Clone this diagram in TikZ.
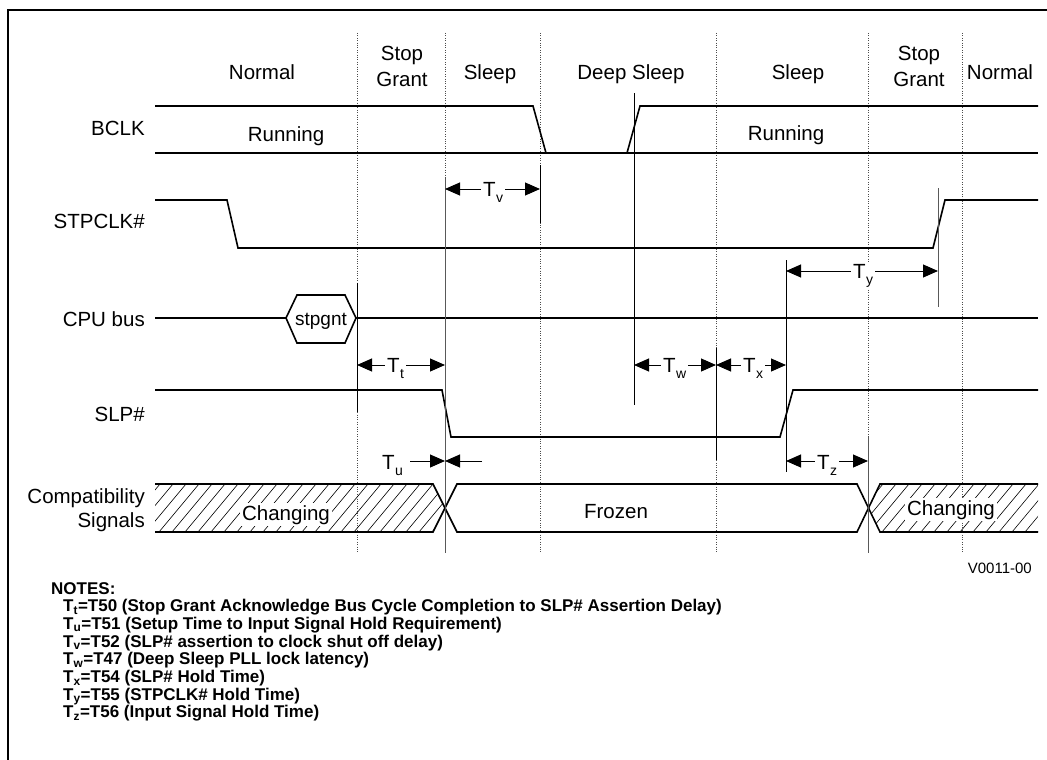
\documentclass[tikz,border=0pt]{standalone}
\usepackage{fontspec}
\setmainfont{Liberation Sans}
\usetikzlibrary{arrows.meta}
\newcommand\Tl[1]{T\kern0.3pt\raisebox{-6pt}{\fontsize{14}{14}\selectfont #1}}
\begin{document}
\begin{tikzpicture}[x=1pt,y=-1pt,
  sig/.style={line width=1.6pt, line join=miter},
  tick/.style={line width=1pt},
  gtick/.style={line width=1pt, black!65},
  dots/.style={black!70, line width=0.8pt, dash pattern=on 0.8pt off 1.6pt},
  dimarr/.style={line width=1pt, {Triangle[length=15pt,width=13pt]}-{Triangle[length=15pt,width=13pt]}},
  onearr/.style={line width=1pt, -{Triangle[length=15pt,width=13pt]}},
  hatch/.style={line width=0.6pt},
  lbl/.style={font=\fontsize{20.5}{24}\selectfont, inner sep=0pt},
  tlab/.style={font=\fontsize{20.5}{24}\selectfont, fill=white, inner xsep=2pt, inner ysep=1pt, anchor=base west},
  note/.style={font=\bfseries\fontsize{17}{18}\selectfont, inner sep=0pt, anchor=base west}]
\useasboundingbox (0,0) rectangle (1047,760);
% frame
\draw[line width=2pt] (8,760) -- (8,10) -- (1047,10);

% dotted phase boundaries
\foreach \x in {357,445,540,716,868,962}
  \draw[dots] (\x,33) -- (\x,553);

% phase labels
\node[lbl, anchor=base] (pn1) at (262,80) {Normal};
\node[lbl, anchor=base] (ps1) at (402,60) {Stop};
\node[lbl, anchor=base] (pg1) at (402,86) {Grant};
\node[lbl, anchor=base] (pl1) at (490,80) {Sleep};
\node[lbl, anchor=base] (pd) at (631,80) {Deep Sleep};
\node[lbl, anchor=base] (pl2) at (798,80) {Sleep};
\node[lbl, anchor=base] (ps2) at (919,60) {Stop};
\node[lbl, anchor=base] (pg2) at (919,86) {Grant};
\node[lbl, anchor=base] (pn2) at (1000,80) {Normal};

% signal names
\node[lbl, anchor=base east] (nb) at (145,135) {BCLK};
\node[lbl, anchor=base east] (ns) at (145,228) {STPCLK\#};
\node[lbl, anchor=base east] (nc) at (145,326) {CPU bus};
\node[lbl, anchor=base east] (np) at (145,421) {SLP\#};
\node[lbl, anchor=base east] (ncp) at (145,503) {Compatibility};
\node[lbl, anchor=base east] (nsg) at (145,527) {Signals};

% BCLK
\draw[sig] (155,106) -- (533,106) -- (546,153);
\draw[sig] (155,153) -- (1038,153);
\draw[sig] (627,153) -- (640,106) -- (1038,106);
\node[lbl, anchor=base] (r1) at (286,141) {Running};
\node[lbl, anchor=base] (r2) at (786,140) {Running};

% STPCLK#
\draw[sig] (155,200) -- (227,200) -- (238,248) -- (933,248) -- (945,200) -- (1038,200);

% CPU bus
\draw[sig] (155,318) -- (286,318);
\draw[sig] (286,318) -- (297,295) -- (345,295) -- (356,318) -- (345,343) -- (297,343) -- cycle;
\draw[sig] (356,318) -- (1038,318);
\node[lbl, font=\fontsize{19}{22}\selectfont, anchor=base] (sg) at (321,325) {stpgnt};

% SLP#
\draw[sig] (155,390) -- (442,390) -- (451,437) -- (780,437) -- (793,390) -- (1038,390);

% Compatibility signals: hatched areas
\begin{scope}
  \clip (155,484) -- (433,484) -- (445,508) -- (433,532) -- (155,532) -- cycle;
  \foreach \i in {120,133,...,460} \draw[hatch] (\i,532) -- ++(40,-48);
\end{scope}
\begin{scope}
  \clip (880,484) -- (1038,484) -- (1038,532) -- (880,532) -- (868,508) -- cycle;
  \foreach \i in {830,843,...,1040} \draw[hatch] (\i,532) -- ++(40,-48);
\end{scope}
\node[lbl, anchor=base, fill=white, inner xsep=2pt, inner ysep=2pt] (ch1) at (286,520) {Changing};
\node[lbl, anchor=base, fill=white, inner xsep=2pt, inner ysep=2pt] (ch2) at (951,515) {Changing};
\node[lbl, anchor=base] (fz) at (616,518) {Frozen};
\draw[sig] (155,484) -- (433,484) -- (457,532) -- (857,532) -- (880,484) -- (1038,484);
\draw[sig] (155,532) -- (433,532) -- (457,484) -- (857,484) -- (880,532) -- (1038,532);

% timing reference lines
\draw[tick] (634,93) -- (634,405);
\draw[tick] (357,283) -- (357,412);
\draw[tick] (540,165) -- (540,223);
\draw[gtick] (445,178) -- (445,553);
\draw[gtick] (938,188) -- (938,307);
\draw[tick] (786,260) -- (786,472);
\draw[tick] (716,348) -- (716,460);
\draw[gtick] (868,437) -- (868,553);

% named coordinates for dimension arrows
\coordinate (tv1) at (445,189); \coordinate (tv2) at (540,189);
\coordinate (ty1) at (786,271); \coordinate (ty2) at (938,271);
\coordinate (tt1) at (357,365); \coordinate (tt2) at (445,365);
\coordinate (tw1) at (634,365); \coordinate (tw2) at (716,365);
\coordinate (tx1) at (716,365); \coordinate (tx2) at (786,365);
\coordinate (tz1) at (786,461); \coordinate (tz2) at (868,461);
\coordinate (tua) at (410,461); \coordinate (tum) at (445,461); \coordinate (tub) at (482,461);

\draw[dimarr] (tv1) -- (tv2);
\draw[dimarr] (ty1) -- (ty2);
\draw[dimarr] (tt1) -- (tt2);
\draw[dimarr] (tw1) -- (tw2);
\draw[dimarr] (tx1) -- (tx2);
\draw[dimarr] (tz1) -- (tz2);
\draw[onearr] (tua) -- (tum);
\draw[onearr] (tub) -- (tum);

\node[tlab] (lv) at (481,196) {\Tl{v}};
\node[tlab] (ly) at (851,278) {\Tl{y}};
\node[tlab] (lt) at (385,372) {\Tl{t}};
\node[tlab] (lw) at (661,372) {\Tl{w}};
\node[tlab] (lx) at (741,372) {\Tl{x}};
\node[tlab] (lu) at (380,469) {\Tl{u}};
\node[tlab] (lz) at (815,469) {\Tl{z}};

\node[lbl, font=\fontsize{15}{18}\selectfont, anchor=base east] (vid) at (1032,573) {V0011-00};

% notes
\node[note] (nn) at (51,594) {NOTES:};
\node[note] (n1) at (63,611.7) {T\textsubscript{t}=T50 (Stop Grant Acknowledge Bus Cycle Completion to SLP\# Assertion Delay)};
\node[note] (n2) at (63,629.4) {T\textsubscript{u}=T51 (Setup Time to Input Signal Hold Requirement)};
\node[note] (n3) at (63,647.1) {T\textsubscript{v}=T52 (SLP\# assertion to clock shut off delay)};
\node[note] (n4) at (63,664.8) {T\textsubscript{w}=T47 (Deep Sleep PLL lock latency)};
\node[note] (n5) at (63,682.5) {T\textsubscript{x}=T54 (SLP\# Hold Time)};
\node[note] (n6) at (63,700.2) {T\textsubscript{y}=T55 (STPCLK\# Hold Time)};
\node[note] (n7) at (63,717.9) {T\textsubscript{z}=T56 (Input Signal Hold Time)};
\end{tikzpicture}
\end{document}
